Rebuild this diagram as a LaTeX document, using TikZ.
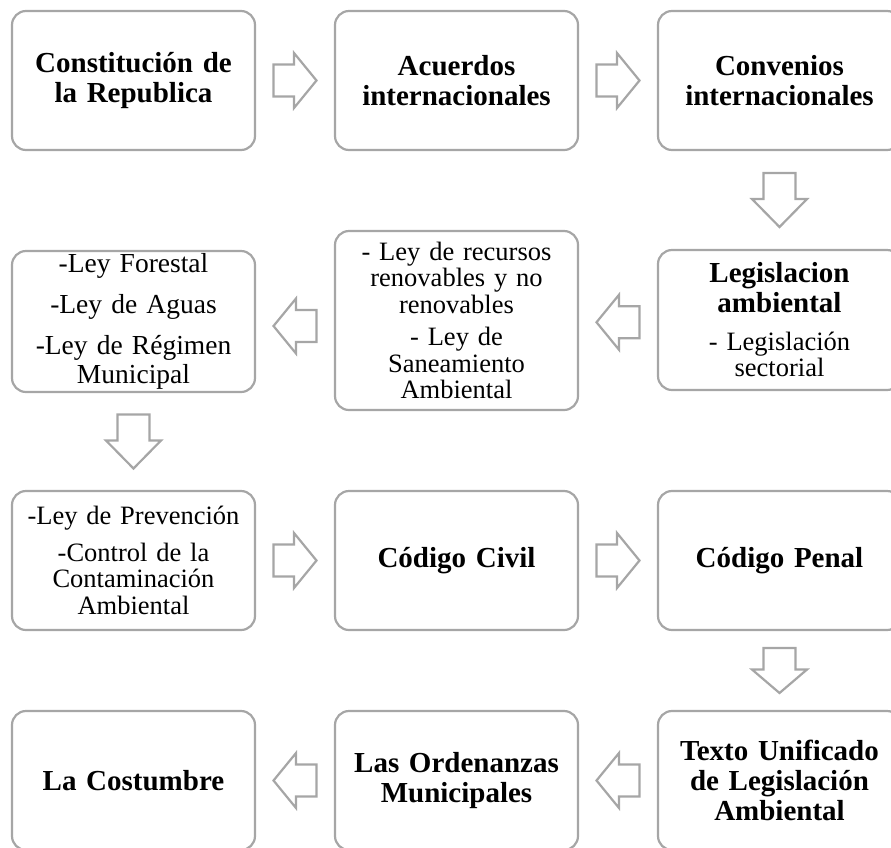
\documentclass[tikz,border=0pt]{standalone}
\usepackage{fontspec}
\setmainfont{Liberation Serif}
\usetikzlibrary{calc}
\definecolor{boxgray}{HTML}{A6A6A6}
\newcommand\blkarrow[3]{\draw[arrowline, shift={#1}, rotate=#3] (-#2/2,-16) -- (-1,-16) -- (-1,-27.5) -- (#2/2,0) -- (-1,27.5) -- (-1,16) -- (-#2/2,16) -- cycle;}
\begin{document}
\begin{tikzpicture}[x=1pt,y=-1pt,
  box/.style={draw=boxgray, line width=2.2pt, rounded corners=14pt, fill=white, minimum width=243pt, inner sep=0pt, align=center, text width=238pt},
  bold/.style={font=\fontsize{29}{30}\selectfont\bfseries},
  reg/.style={font=\fontsize{26.5}{26.5}\selectfont},
  regl/.style={font=\fontsize{27.5}{29}\selectfont},
  arrowline/.style={draw=boxgray, line width=2.2pt, fill=white, line join=miter}
]
\useasboundingbox (0,0) rectangle (891,847);
\clip (0,0) rectangle (891,847);
% row 1
\node[box,bold,minimum height=139pt] (n1) at (133.5,80.5) {Constitución de\\la Republica};
\node[box,bold,minimum height=139pt] (n2) at (456.5,80.5) {Acuerdos\\internacionales};
\node[box,bold,minimum height=139pt] (n3) at (779.5,80.5) {Convenios\\internacionales};
% row 2
\node[box,reg,minimum height=140pt] (n4) at (779.5,320) {{\fontsize{29}{30}\selectfont\bfseries Legislacion\\ambiental\par}\vspace{11pt}- Legislación\\sectorial};
\node[box,reg,minimum height=179pt] (n5) at (456.5,320.5) {- Ley de recursos\\renovables y no\\renovables\\[6pt]- Ley de\\Saneamiento\\Ambiental};
\node[box,regl,minimum height=141pt] (n6) at (133.5,321.5) {-Ley Forestal\\[12pt]-Ley de Aguas\\[12pt]-Ley de Régimen\\Municipal};
% row 3
\node[box,reg,minimum height=139pt] (n7) at (133.5,560.5) {-Ley de Prevención\\[10pt]-Control de la\\Contaminación\\Ambiental};
\node[box,bold,minimum height=139pt] (n8) at (456.5,560.5) {Código Civil};
\node[box,bold,minimum height=139pt] (n9) at (779.5,560.5) {Código Penal};
% row 4
\node[box,bold,minimum height=139pt] (n10) at (779.5,780.5) {Texto Unificado\\de Legislación\\Ambiental};
\node[box,bold,minimum height=139pt] (n11) at (456.5,780.5) {Las Ordenanzas\\Municipales};
\node[box,bold,minimum height=139pt] (n12) at (133.5,780.5) {La Costumbre};
% block arrows
\blkarrow{($(n1.east)!0.5!(n2.west)$)}{43}{0}
\blkarrow{($(n2.east)!0.5!(n3.west)$)}{43}{0}
\blkarrow{($(n3.south)!0.5!(n4.north)$)}{54}{-90}
\blkarrow{($(n4.west)!0.5!(n5.east)+(0,2)$)}{43}{180}
\blkarrow{($(n5.west)!0.5!(n6.east)+(0,5)$)}{43}{180}
\blkarrow{($(n6.south)!0.5!(n7.north)$)}{54}{-90}
\blkarrow{($(n7.east)!0.5!(n8.west)$)}{43}{0}
\blkarrow{($(n8.east)!0.5!(n9.west)$)}{43}{0}
\blkarrow{($(n9.south)!0.5!(n10.north)$)}{45}{-90}
\blkarrow{($(n10.west)!0.5!(n11.east)$)}{43}{180}
\blkarrow{($(n11.west)!0.5!(n12.east)$)}{43}{180}
\end{tikzpicture}
\end{document}
